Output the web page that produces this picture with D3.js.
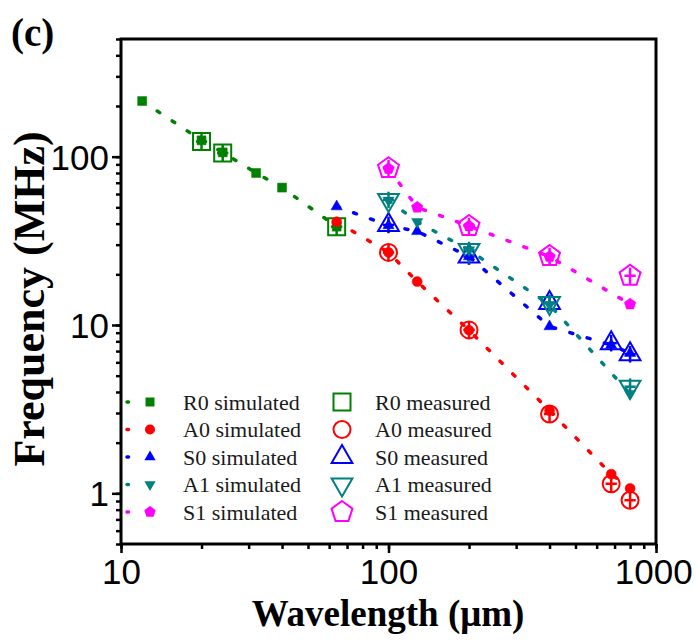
<!DOCTYPE html>
<html><head><meta charset="utf-8">
<script src="https://cdn.jsdelivr.net/npm/d3@7"></script>
<style>body{margin:0;background:#fff}svg{display:block}</style>
</head><body>
<script>
// ---------- data ----------
const xTicks = [10, 100, 1000];
const yTicks = [1, 10, 100];
const xTickLabels = ["10", "100", "1000"];
const yTickLabels = ["1", "10", "100"];

const seriesNames = ["R0", "A0", "S0", "A1", "S1"];
const seriesColors = ["#008000", "#ff0000", "#0000ff", "#008080", "#ff00ff"];
const seriesShapes = ["square", "circle", "triUp", "triDown", "pentagon"];

// simulated (filled markers, dotted lines)
const r0SimX = [12, 20, 24, 32, 40, 64];
const r0SimY = [214, 125, 106, 80, 65.5, 38.4];
const a0SimX = [64, 100, 128, 200, 400, 680, 800];
const a0SimY = [41, 27, 18.1, 9.3, 3.1, 1.3, 1.07];
const s0SimX = [64, 100, 128, 200, 400, 680, 800];
const s0SimY = [50.5, 39, 36, 25.5, 9.8, 7.6, 6.8];
const a1SimX = [100, 128, 200, 400, 800];
const a1SimY = [55, 41, 27.9, 13.2, 3.9];
const s1SimX = [100, 128, 200, 400, 800];
const s1SimY = [85, 50, 38.7, 25.5, 13.3];

// measured (open markers)
const r0MeasX = [20, 24, 64];
const r0MeasY = [123, 105, 38.4];
const a0MeasX = [100, 200, 400, 680, 800];
const a0MeasY = [27, 9.35, 2.96, 1.14, 0.91];
const s0MeasX = [100, 200, 400, 680, 800];
const s0MeasY = [39.3, 25.5, 13.5, 7.8, 6.7];
const a1MeasX = [100, 200, 400, 800];
const a1MeasY = [55.3, 27.9, 13.5, 4.3];
const s1MeasX = [100, 200, 400, 800];
const s1MeasY = [85.4, 38.7, 25.7, 19.6];
// relative measurement uncertainty (error bars)
const measRelErrY = [0.12, 0.12, 0.12, 0.12, 0.12];
const measRelErrX = [0.05, 0.05, 0.05, 0.05, 0.05];

const simX = [r0SimX, a0SimX, s0SimX, a1SimX, s1SimX];
const simY = [r0SimY, a0SimY, s0SimY, a1SimY, s1SimY];
const measX = [r0MeasX, a0MeasX, s0MeasX, a1MeasX, s1MeasX];
const measY = [r0MeasY, a0MeasY, s0MeasY, a1MeasY, s1MeasY];

// ---------- layout ----------
const W = 698, H = 640;
const L = 121, R = 656, T = 39, B = 544;
const svg = d3.select("body").append("svg").attr("width", W).attr("height", H);
svg.append("rect").attr("width", W).attr("height", H).attr("fill", "#fff");

const x = d3.scaleLog().domain([10, 1000]).range([L, R]);
const y = d3.scaleLog().domain([0.5, 500]).range([B, T]);

function shapePath(type, r) {
  if (type === "circle") return d3.symbol(d3.symbolCircle, Math.PI * r * r)();
  if (type === "square") return `M${-r},${-r}H${r}V${r}H${-r}Z`;
  if (type === "triUp" || type === "triDown") {
    const s = type === "triUp" ? 1 : -1;
    const pts = [[0, -r * s], [r * 0.866, r * 0.5 * s], [-r * 0.866, r * 0.5 * s]];
    return "M" + pts.map(p => p.join(",")).join("L") + "Z";
  }
  if (type === "pentagon") {
    const pts = d3.range(5).map(i => {
      const a = -Math.PI / 2 + i * 2 * Math.PI / 5;
      return [r * Math.cos(a), r * Math.sin(a)];
    });
    return "M" + pts.map(p => p.join(",")).join("L") + "Z";
  }
}
const measSize = {square: 8.5, circle: 8.5, triUp: 12, triDown: 12, pentagon: 11};
const simSize = {square: 4.5, circle: 5, triUp: 6.5, triDown: 6.5, pentagon: 6};

const plot = svg.append("g");
const line = d3.line().x(d => x(d[0])).y(d => y(d[1]));

// measured markers with error bars
seriesNames.forEach((n, i) => {
  const col = seriesColors[i], shp = seriesShapes[i];
  const g = plot.append("g");
  measX[i].forEach((xv, j) => {
    const yv = measY[i][j];
    const ey = measRelErrY[i], ex = measRelErrX[i];
    g.append("line").attr("x1", x(xv)).attr("x2", x(xv))
      .attr("y1", y(yv * (1 + ey))).attr("y2", y(yv / (1 + ey)))
      .attr("stroke", col).attr("stroke-width", 2.5);
    g.append("line").attr("x1", x(xv / (1 + ex))).attr("x2", x(xv * (1 + ex)))
      .attr("y1", y(yv)).attr("y2", y(yv))
      .attr("stroke", col).attr("stroke-width", 2.5);
    g.append("path").attr("d", shapePath(shp, measSize[shp]))
      .attr("transform", `translate(${x(xv)},${y(yv)})`)
      .attr("fill", "none").attr("stroke", col).attr("stroke-width", 2);
  });
});

// simulated lines + filled markers
seriesNames.forEach((n, i) => {
  const col = seriesColors[i], shp = seriesShapes[i];
  const pts = simX[i].map((xv, j) => [xv, simY[i][j]]);
  plot.append("path").attr("d", line(pts)).attr("fill", "none")
    .attr("stroke", col).attr("stroke-width", 3.5)
    .attr("stroke-dasharray", "3,15").attr("stroke-linecap", "round");
  pts.forEach(p => {
    plot.append("path").attr("d", shapePath(shp, simSize[shp]))
      .attr("transform", `translate(${x(p[0])},${y(p[1])})`)
      .attr("fill", col).attr("stroke", col).attr("stroke-width", 0.5);
  });
});

// ---------- axes ----------
const tickFont = "'Liberation Sans', Arial, sans-serif";
const xMinor = [];
[10, 100].forEach(d => { for (let k = 1; k <= 9; k++) xMinor.push(d * k); });
xMinor.push(1000);
const yMinor = [];
[0.1, 1, 10, 100].forEach(d => { for (let k = 1; k <= 9; k++) { const v = d * k; if (v >= 0.5 && v <= 500) yMinor.push(v); } });

const xAxis = svg.append("g").attr("transform", `translate(0,${B})`)
  .call(d3.axisBottom(x).tickValues(xMinor).tickSize(5).tickFormat(""));
const xAxisMajor = svg.append("g").attr("transform", `translate(0,${B})`)
  .call(d3.axisBottom(x).tickValues(xTicks).tickSize(9).tickPadding(6)
    .tickFormat((d, i) => xTickLabels[i]));
const yAxis = svg.append("g").attr("transform", `translate(${L},0)`)
  .call(d3.axisLeft(y).tickValues(yMinor).tickSize(5).tickFormat(""));
const yAxisMajor = svg.append("g").attr("transform", `translate(${L},0)`)
  .call(d3.axisLeft(y).tickValues(yTicks).tickSize(9).tickPadding(3)
    .tickFormat((d, i) => yTickLabels[i]));
[xAxis, xAxisMajor, yAxis, yAxisMajor].forEach(a => {
  a.select(".domain").remove();
  a.selectAll("line").attr("stroke", "#000").attr("stroke-width", 2.5);
  a.selectAll("text").attr("font-family", tickFont).attr("font-size", 35).attr("fill", "#000");
});
xAxisMajor.selectAll("text").attr("dy", "0.7em");
xAxisMajor.selectAll(".tick").filter((d, i) => i === 2).select("text").attr("dx", "-0.08em");
yAxisMajor.selectAll("text").attr("dy", "0.36em");

// frame
svg.append("rect").attr("x", L).attr("y", T).attr("width", R - L).attr("height", B - T)
  .attr("fill", "none").attr("stroke", "#000").attr("stroke-width", 3);

// titles
const serif = "'Liberation Serif', 'Times New Roman', serif";
svg.append("text").attr("x", 388).attr("y", 626).attr("text-anchor", "middle")
  .attr("font-family", serif).attr("font-weight", "bold").attr("font-size", 37)
  .text("Wavelength (μm)");
svg.append("text").attr("transform", "translate(44,299) rotate(-90)").attr("text-anchor", "middle")
  .attr("font-family", serif).attr("font-weight", "bold").attr("font-size", 44)
  .text("Frequency (MHz)");
svg.append("text").attr("x", 11).attr("y", 46)
  .attr("font-family", serif).attr("font-weight", "bold").attr("font-size", 39)
  .text("(c)");

// ---------- legend ----------
const legY0 = 402, legDy = 27.5;
const leg = svg.append("g").attr("font-family", serif).attr("font-size", 22).attr("fill", "#1a1a1a");
seriesNames.forEach((n, i) => {
  const col = seriesColors[i], shp = seriesShapes[i];
  const yy = legY0 + i * legDy;
  leg.append("line").attr("x1", 127).attr("x2", 172).attr("y1", yy).attr("y2", yy)
    .attr("stroke", col).attr("stroke-width", 3.5).attr("stroke-linecap", "round")
    .attr("stroke-dasharray", "1.5,21");
  leg.append("path").attr("d", shapePath(shp, simSize[shp]))
    .attr("transform", `translate(150,${yy})`).attr("fill", col);
  leg.append("text").attr("x", 183).attr("y", yy).attr("dy", "0.35em").text(n + " simulated");
  leg.append("path").attr("d", shapePath(shp, measSize[shp]))
    .attr("transform", `translate(342,${yy})`).attr("fill", "none")
    .attr("stroke", col).attr("stroke-width", 2);
  leg.append("text").attr("x", 375).attr("y", yy).attr("dy", "0.35em").text(n + " measured");
});
</script>
</body></html>
